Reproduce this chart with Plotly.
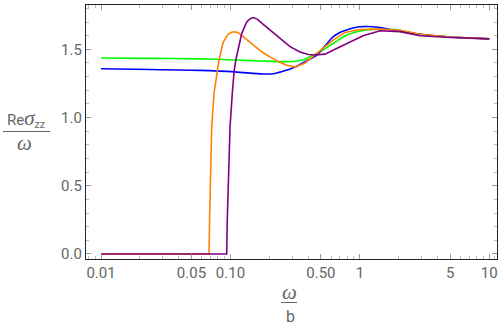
import plotly.graph_objects as go

# ---- data ----
green_x = [0.01, 0.0239, 0.0583, 0.1085, 0.1694, 0.2413, 0.3157, 0.3772, 0.4122, 0.493, 0.6206, 0.7686, 1.0, 1.31, 1.87, 2.919, 4.98, 10]
green_y = [1.436, 1.434, 1.430, 1.422, 1.415, 1.410, 1.413, 1.428, 1.446, 1.482, 1.543, 1.600, 1.635, 1.648, 1.645, 1.610, 1.590, 1.577]

blue_x = [0.01, 0.0239, 0.0583, 0.1085, 0.1786, 0.2211, 0.2413, 0.2888, 0.3157, 0.3772, 0.4644, 0.5384, 0.6206, 0.69, 0.7686, 0.9, 1.097, 1.433, 1.806, 2.919, 4.98, 10]
blue_y = [1.358, 1.352, 1.346, 1.335, 1.319, 1.323, 1.333, 1.355, 1.370, 1.410, 1.458, 1.526, 1.592, 1.620, 1.638, 1.658, 1.667, 1.660, 1.641, 1.610, 1.590, 1.577]

orange_x = [0.01, 0.0683, 0.0690, 0.0696, 0.0717, 0.0747, 0.0792, 0.0816, 0.0877, 0.0958, 0.102, 0.1085, 0.115, 0.1229, 0.1417, 0.1745, 0.2023, 0.2333, 0.2690, 0.3157, 0.3772, 0.4506, 0.5384, 0.6206, 0.7686, 1.0, 1.433, 2.045, 2.919, 4.98, 10]
orange_y = [0.0, 0.0, 0.25, 0.447, 0.933, 1.18, 1.335, 1.421, 1.55, 1.61, 1.625, 1.629, 1.622, 1.60, 1.55, 1.482, 1.445, 1.41, 1.385, 1.37, 1.40, 1.458, 1.52, 1.568, 1.624, 1.645, 1.648, 1.640, 1.610, 1.590, 1.577]

purple_x = [0.01, 0.0936, 0.0945, 0.0958, 0.0993, 0.1034, 0.1066, 0.1099, 0.1223, 0.1336, 0.142, 0.1503, 0.162, 0.1754, 0.2023, 0.2460, 0.2888, 0.3450, 0.4, 0.4506, 0.5384, 0.6429, 0.7962, 1.0586, 1.433, 2.045, 2.919, 4.98, 10]
purple_y = [0.0, 0.0, 0.25, 0.447, 0.933, 1.18, 1.335, 1.42, 1.617, 1.70, 1.725, 1.733, 1.72, 1.69, 1.64, 1.575, 1.52, 1.48, 1.462, 1.458, 1.465, 1.50, 1.543, 1.60, 1.636, 1.630, 1.600, 1.587, 1.577]

x_tickvals = [0.01, 0.05, 0.1, 0.5, 1, 5, 10]
x_ticktext = ["0.01", "0.05", "0.10", "0.50", "1", "5", "10"]
x_minor = [0.008, 0.009, 0.02, 0.03, 0.04, 0.06, 0.07, 0.08, 0.09,
           0.2, 0.3, 0.4, 0.6, 0.7, 0.8, 0.9, 2, 3, 4, 6, 7, 8, 9, 11]
y_tickvals = [0.0, 0.5, 1.0, 1.5]
y_ticktext = ["0.0", "0.5", "1.0", "1.5"]
y_minor = [0.1, 0.2, 0.3, 0.4, 0.6, 0.7, 0.8, 0.9, 1.1, 1.2, 1.3, 1.4, 1.6, 1.7, 1.8]

series = [
    (green_x, green_y, "rgb(0,255,0)", "spline"),
    (blue_x, blue_y, "rgb(0,0,255)", "spline"),
    (orange_x, orange_y, "rgb(255,128,0)", "linear"),
    (purple_x, purple_y, "rgb(128,0,128)", "linear"),
]

fig = go.Figure()
for xs, ys, col, shp in series:
    line = dict(color=col, width=1.6, shape=shp)
    if shp == "spline":
        line["smoothing"] = 0.8
    fig.add_trace(go.Scatter(x=xs, y=ys, mode="lines", line=line,
                             showlegend=False, hoverinfo="skip"))

font = dict(family="Roboto", size=15, color="#666666")
axis_common = dict(showgrid=False, zeroline=False, showline=True, linecolor="#222222",
                   linewidth=1.3, mirror="allticks", ticks="inside", ticklen=5,
                   tickcolor="#999999", tickwidth=1, tickfont=font, automargin=False)

L, T, W, H = 86, 5, 411, 254

fig.update_layout(
    width=498, height=329,
    margin=dict(l=L, r=498 - L - W, t=T, b=329 - T - H),
    paper_bgcolor="white", plot_bgcolor="white",
    xaxis=dict(type="log", range=[-2.116, 1.0595], tickmode="array",
               tickvals=x_tickvals, ticktext=x_ticktext,
               minor=dict(tickmode="array", tickvals=x_minor, ticks="inside",
                          ticklen=3, tickcolor="#bbbbbb"),
               **axis_common),
    yaxis=dict(range=[-0.037, 1.825], tickmode="array",
               tickvals=y_tickvals, ticktext=y_ticktext,
               minor=dict(tickmode="array", tickvals=y_minor, ticks="inside",
                          ticklen=3, tickcolor="#bbbbbb"),
               **axis_common),
)


def px(x):
    return (x - L) / W


def py(y):
    return (T + H - y) / H


lab_font = dict(family="Roboto", size=15, color="#666666")
serif = "font-family:'Liberation Serif';font-style:italic"
# y-axis fraction label
fig.add_annotation(xref="paper", yref="paper", x=px(26), y=py(118),
                   text="Re<span style=\"" + serif + ";font-size:21px\">σ</span><sub>zz</sub>",
                   showarrow=False, font=lab_font, xanchor="center", yanchor="middle")
fig.add_annotation(xref="paper", yref="paper", x=px(25), y=py(143.5),
                   text="<span style=\"" + serif + ";font-size:21px\">ω</span>",
                   showarrow=False, font=lab_font, xanchor="center", yanchor="middle")
fig.add_shape(type="line", xref="paper", yref="paper",
              x0=px(3), x1=px(50), y0=py(131.5), y1=py(131.5),
              line=dict(color="#666666", width=1))
# x-axis fraction label
fig.add_annotation(xref="paper", yref="paper", x=px(289), y=py(292),
                   text="<span style=\"" + serif + ";font-size:21px\">ω</span>",
                   showarrow=False, font=lab_font, xanchor="center", yanchor="middle")
fig.add_annotation(xref="paper", yref="paper", x=px(290), y=py(316),
                   text="b", showarrow=False, font=dict(family="Roboto", size=16, color="#666666"),
                   xanchor="center", yanchor="middle")
fig.add_shape(type="line", xref="paper", yref="paper",
              x0=px(281), x1=px(297), y0=py(302.5), y1=py(302.5),
              line=dict(color="#666666", width=1))

fig.write_html("out.html", config={"displayModeBar": False},
               post_script="document.body.style.margin='0';document.body.style.overflow='hidden';")
